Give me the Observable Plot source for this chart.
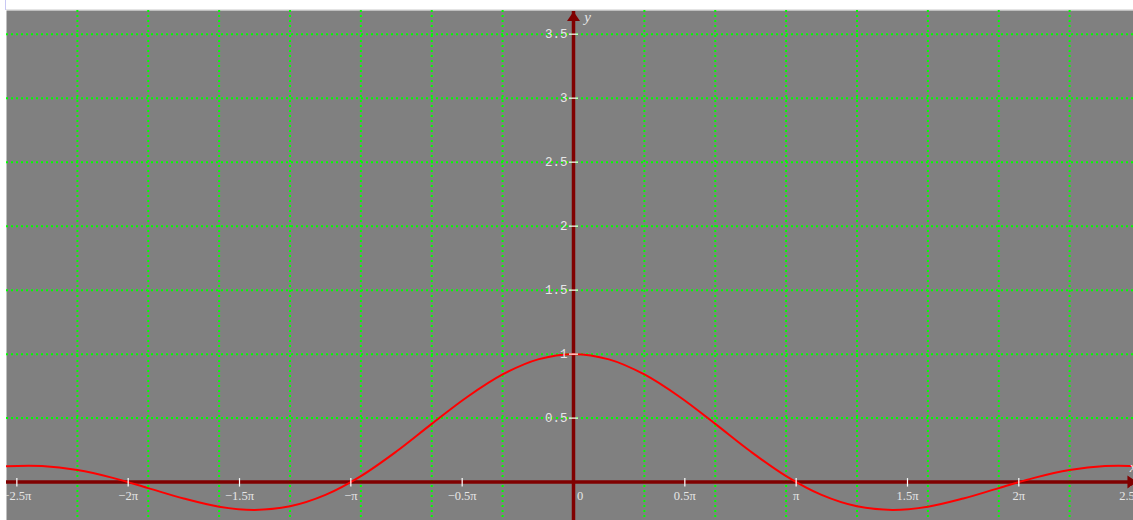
<!DOCTYPE html>
<html>
<head>
<meta charset="utf-8">
<script src="https://cdn.jsdelivr.net/npm/d3@7"></script>
<script src="https://cdn.jsdelivr.net/npm/@observablehq/plot@0.6"></script>
<style>
  html, body { margin: 0; padding: 0; background: #fff; overflow: hidden; width: 1133px; height: 520px; }
  #leftmark { position: absolute; left: 5px; top: 0; width: 1px; height: 10px; background: #c8c8f4; }
  #topline { position: absolute; left: 6px; top: 9px; width: 1127px; height: 1px; background: #e4e4e4; }
  #wrap { position: absolute; left: 6px; top: 10px; width: 1134px; height: 510px; }
  #wrap svg { max-width: none; overflow: hidden; display: block; }
</style>
</head>
<body>
<div id="leftmark"></div>
<div id="topline"></div>
<div id="wrap"></div>
<script>
// Curve samples (y = sin(x)/x shape)
const curveX = [-8, -7.5, -7, -6.5, -6, -5.5, -5, -4.5, -4, -3.5, -3, -2.5, -2, -1.5, -1, -0.5,
                0, 0.5, 1, 1.5, 2, 2.5, 3, 3.5, 4, 4.5, 5, 5.5, 6, 6.5, 7, 7.5, 8];
const curveY = [0.124, 0.125, 0.094, 0.033, -0.047, -0.128, -0.192, -0.217, -0.189, -0.100, 0.047, 0.239, 0.455, 0.665, 0.841, 0.959,
                1.000, 0.959, 0.841, 0.665, 0.455, 0.239, 0.047, -0.100, -0.189, -0.217, -0.192, -0.128, -0.047, 0.033, 0.094, 0.125, 0.124];

// Grid
const xGrid = [-7, -6, -5, -4, -3, -2, -1, 1, 2, 3, 4, 5, 6, 7];
const yGrid = [0.5, 1, 1.5, 2, 2.5, 3, 3.5];

// Ticks (x ticks in multiples of π)
const xTickMultiples = [-2.5, -2, -1.5, -1, -0.5, 0.5, 1, 1.5, 2, 2.5];
const xTickLabels = ["−2.5π", "−2π", "−1.5π", "−π", "−0.5π", "0.5π", "π", "1.5π", "2π", "2.5π"];
const originLabel = ["0"];
const yTickValues = [0.5, 1, 1.5, 2, 2.5, 3, 3.5];
const yTickLabels = ["0.5", "1", "1.5", "2", "2.5", "3", "3.5"];

// Scale extents and axis arrow ends
const xDomain = [-8, 8];
const yDomain = [-0.3, 3.685];
const xAxisEnd = [7.95];
const yAxisEnd = [3.678];

const curve = curveX.map((x, i) => ({x, y: curveY[i]}));
const xTicks = xTickMultiples.map((m, i) => ({x: m * Math.PI, label: xTickLabels[i]}));
const yTicks = yTickValues.map((v, i) => ({y: v, label: yTickLabels[i]}));

const axisColor = "#800000";
const gridColor = "#00ff00";
const labelColor = "#e6e6e6";

const vTick = {draw(ctx) { ctx.moveTo(0, -4); ctx.lineTo(0, 4.5); }};
const hTick = {draw(ctx) { ctx.moveTo(-4.5, 0); ctx.lineTo(4.5, 0); }};
const arrowHead = {draw(ctx) { ctx.moveTo(0, 0); ctx.lineTo(6.5, 9.5); ctx.lineTo(-6.5, 9.5); ctx.closePath(); }};

const chart = Plot.plot({
  width: 1134,
  height: 510,
  margin: 0,
  x: {domain: xDomain, axis: null},
  y: {domain: yDomain, axis: null},
  marks: [
    Plot.frame({fill: "#808080", stroke: "none"}),
    Plot.ruleX(xGrid, {x: d => d, stroke: gridColor, strokeWidth: 2, strokeDasharray: "2,3"}),
    Plot.ruleY(yGrid, {y: d => d, stroke: gridColor, strokeWidth: 2, strokeDasharray: "2,3"}),
    Plot.ruleY([0], {y: d => d, stroke: axisColor, strokeWidth: 3.5}),
    Plot.ruleX([0], {x: d => d, y1: yDomain[0], y2: yAxisEnd[0], stroke: axisColor, strokeWidth: 3.5}),
    Plot.line(curve, {x: "x", y: "y", curve: "catmull-rom", stroke: "#ff0000", strokeWidth: 2}),
    Plot.dot(xTicks, {x: "x", y: () => 0, symbol: vTick, fill: "none", stroke: "#ffffff", strokeWidth: 1.2}),
    Plot.dot(yTicks, {x: () => 0, y: "y", symbol: hTick, fill: "none", stroke: "#ffffff", strokeWidth: 1.2}),
    Plot.text(xTicks, {x: "x", y: () => 0, text: "label", dy: 13.5, fill: labelColor,
      fontFamily: "Liberation Serif, serif", fontSize: 12.5, textAnchor: "middle", lineAnchor: "middle"}),
    Plot.text(originLabel, {x: () => 0, y: () => 0, text: d => d, dx: 6.5, dy: 13.5, fill: labelColor,
      fontFamily: "Liberation Serif, serif", fontSize: 12.5, textAnchor: "middle", lineAnchor: "middle"}),
    Plot.text(yTicks, {x: () => 0, y: "y", text: "label", dx: -6, fill: labelColor,
      fontFamily: "Liberation Mono, monospace", fontSize: 12.5, textAnchor: "end", lineAnchor: "middle"}),
    Plot.dot(yAxisEnd, {x: () => 0, y: d => d, symbol: arrowHead, fill: axisColor, stroke: "none"}),
    Plot.dot(xAxisEnd, {x: d => d, y: () => 0, symbol: arrowHead, rotate: 90, fill: axisColor, stroke: "none"}),
    Plot.text(yAxisEnd, {x: () => 0, y: d => d, text: () => "y", dx: 14, dy: 6, fill: labelColor,
      fontFamily: "Liberation Serif, serif", fontStyle: "italic", fontSize: 15, textAnchor: "middle", lineAnchor: "middle"}),
    Plot.text(xAxisEnd, {x: d => d, y: () => 0, text: () => "x", dx: -4, dy: -15, fill: labelColor,
      fontFamily: "Liberation Serif, serif", fontStyle: "italic", fontSize: 15, textAnchor: "middle", lineAnchor: "middle"})
  ]
});
document.getElementById("wrap").appendChild(chart);
</script>
</body>
</html>
